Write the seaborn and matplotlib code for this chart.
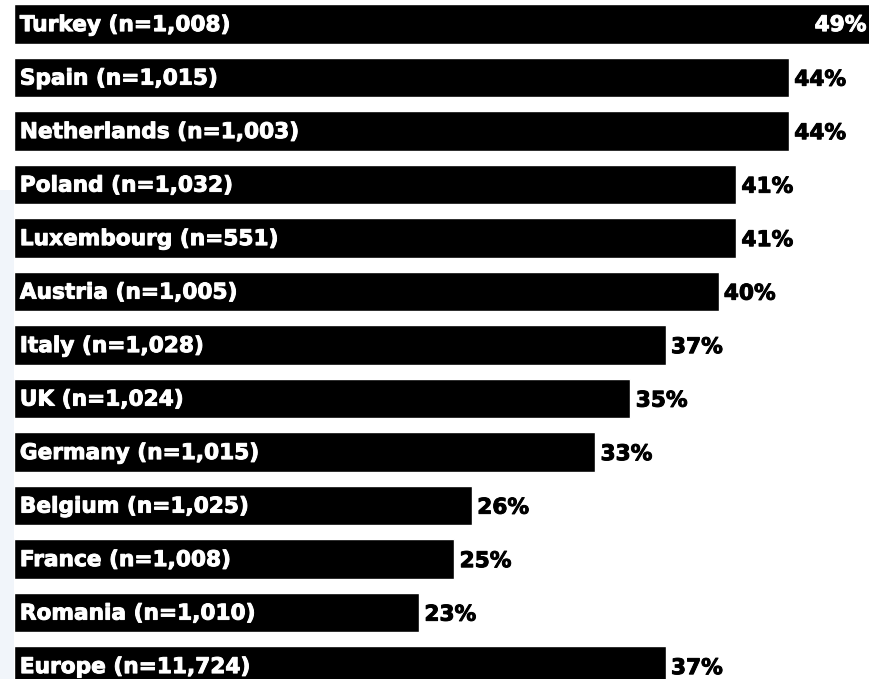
import pandas as pd
import matplotlib.pyplot as plt
import seaborn as sns
from matplotlib.patches import Rectangle
import matplotlib.patheffects as pe

# dati
paesi = ["Turkey", "Spain", "Netherlands", "Poland", "Luxembourg", "Austria",
         "Italy", "UK", "Germany", "Belgium", "France", "Romania", "Europe"]
campioni = ["1,008", "1,015", "1,003", "1,032", "551", "1,005",
            "1,028", "1,024", "1,015", "1,025", "1,008", "1,010", "11,724"]
percentuali = [49, 44, 44, 41, 41, 40, 37, 35, 33, 26, 25, 23, 37]

df = pd.DataFrame({
    "Paese": [f"{p} (n={n})" for p, n in zip(paesi, campioni)],
    "Perc": percentuali,
})

sns.set_theme(style="white")
plt.rcParams["font.family"] = ["DejaVu Sans"]

fig = plt.figure(figsize=(8.7, 6.79), dpi=100)
# leggera sfumatura azzurra a sinistra
fig.patches.append(Rectangle((0, 0), 14 / 870, 0.72, transform=fig.transFigure,
                             facecolor="#f1f5fa", edgecolor="none", zorder=0))
ax = fig.add_axes([14 / 870, 0, 856 / 870, 1])
ax.patch.set_alpha(0)

sns.barplot(data=df, x="Perc", y="Paese", color="black", width=0.74,
            saturation=1, ax=ax)

ax.set_xlim(0, 48.6)
ax.set_ylim(12.243, -0.449)

fs = 15.6
bianco = [pe.withStroke(linewidth=0.7, foreground="white")]
nero = [pe.withStroke(linewidth=0.7, foreground="black")]
for i, (lab, v) in enumerate(zip(df["Paese"], df["Perc"])):
    ax.text(0.33, i + 0.02, lab, color="white", fontsize=fs, fontweight="bold",
            va="center", ha="left", path_effects=bianco)
    if v >= 48.6:
        ax.text(48.4, i + 0.02, f"{v}%", color="white", fontsize=fs,
                fontweight="bold", va="center", ha="right", path_effects=bianco)
    else:
        ax.text(v + 0.3, i + 0.04, f"{v}%", color="black", fontsize=fs,
                fontweight="bold", va="center", ha="left", path_effects=nero)

ax.set_xlabel("")
ax.set_ylabel("")
ax.set_xticks([])
ax.set_yticks([])
sns.despine(ax=ax, left=True, bottom=True)

fig.savefig("out.png", dpi=100)
